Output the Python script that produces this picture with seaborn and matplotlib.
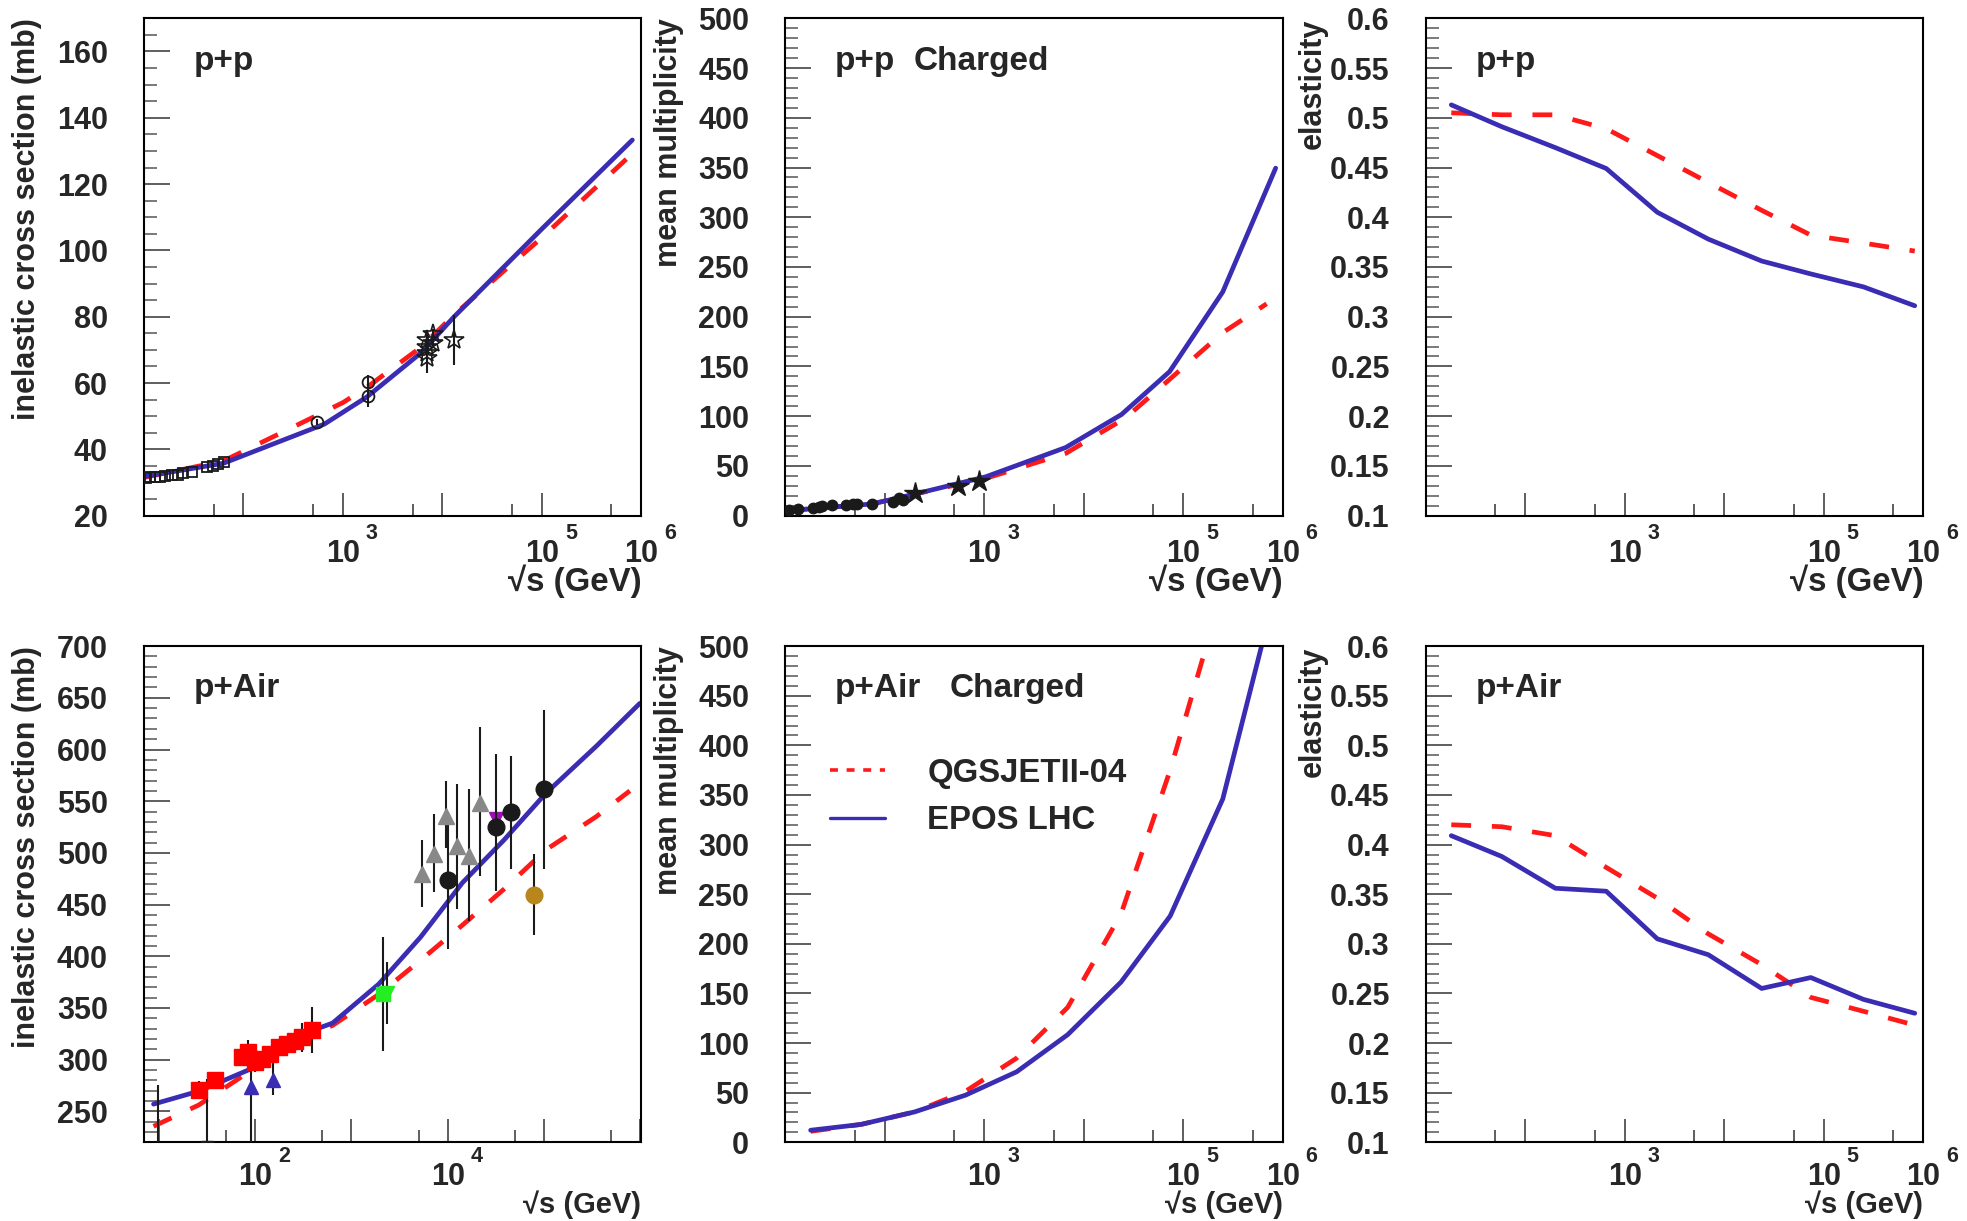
import numpy as np
import seaborn as sns
import matplotlib.pyplot as plt
from matplotlib.ticker import FixedLocator, NullFormatter, FuncFormatter
from matplotlib.lines import Line2D

# ---------------- data ----------------
# p+p inelastic cross section (mb)
pp_xs_epos_x = [10, 63, 650, 1740, 6200, 13000, 1e5, 8.1e5]
pp_xs_epos_y = [31.8, 35.8, 47.6, 55.8, 69.3, 79.9, 106.5, 133.3]
pp_xs_qgs_x = [10, 63, 300, 1000, 1740, 6200, 13000, 1e5, 8.1e5]
pp_xs_qgs_y = [31.5, 36.5, 46.4, 54.1, 58.7, 71.0, 80.5, 103.9, 129.2]
pp_xs_sq_x = [10.5, 11.5, 12.9, 14.5, 16.3, 19, 22.2, 24.9, 30.2, 42.7, 49.9, 56, 63.8]
pp_xs_sq_y = [31.25, 31.55, 31.55, 31.7, 31.9, 32.2, 32.4, 32.8, 33.2, 34.8, 35.1, 35.6, 36.1]
pp_xs_circ_x = [546, 1800, 1800]
pp_xs_circ_y = [48.3, 60.4, 56.2]
pp_xs_circ_err = [0.9, 2.0, 3.3]
pp_xs_star_x = [7000, 7000, 7000, 7000, 8000, 8000, 13000]
pp_xs_star_y = [67.5, 69.0, 71.0, 73.0, 72.0, 74.7, 73.0]
pp_xs_star_err = [1.5, 6.0, 2.0, 1.2, 1.5, 1.7, 7.6]

# p+p charged multiplicity
pp_mult_epos_x = [10.5, 74, 197, 1040, 6600, 24000, 73000, 250000, 850000]
pp_mult_epos_y = [5, 11.7, 21.5, 39.1, 68.5, 101.7, 144.8, 225, 349.4]
pp_mult_qgs_x = [10.5, 74, 197, 1040, 6600, 26000, 73000, 250000, 690000]
pp_mult_qgs_y = [5, 11.7, 21.5, 37.5, 62.6, 97.8, 137, 184, 213]
pp_mult_dot_x = [11, 13.4, 18.9, 21.9, 23.4, 29.3, 41.2, 47.7, 52.7, 74.2, 121, 140, 154]
pp_mult_dot_y = [5.9, 6.7, 7.9, 9.0, 9.8, 10.6, 11.0, 11.3, 11.7, 11.7, 13.7, 17.6, 15.6]
pp_mult_star_x = [201, 550, 890]
pp_mult_star_y = [22.3, 29.3, 35.2]

# model energy grid used for elasticity / p+Air multiplicity
grid_x = [18, 58, 200, 650, 2120, 6900, 23700, 74000, 250000, 820000]
pp_el_epos = [0.513, 0.491, 0.470, 0.449, 0.405, 0.378, 0.356, 0.343, 0.330, 0.311]
pp_el_qgs = [0.505, 0.503, 0.503, 0.489, 0.462, 0.435, 0.407, 0.382, 0.374, 0.366]
pair_mult_epos = [12.1, 18, 30.6, 47.5, 71, 108.4, 161.4, 228, 346, 550]
pair_mult_qgs = [11, 18, 30.6, 51.4, 84.8, 135.9, 230, 375, 557, 850]
pair_el_epos = [0.409, 0.388, 0.356, 0.353, 0.305, 0.289, 0.255, 0.266, 0.244, 0.230]
pair_el_qgs = [0.420, 0.418, 0.409, 0.377, 0.346, 0.310, 0.279, 0.246, 0.232, 0.218]

# p+Air inelastic cross section (mb)
pair_xs_epos_x = [8.8, 25.9, 86, 406, 637, 1920, 5210, 14200, 38600, 105000, 349000, 990000]
pair_xs_epos_y = [256.9, 269.4, 290.1, 328.6, 335.3, 373, 418.3, 471, 512.6, 557.8, 603.1, 644.6]
pair_xs_qgs_x = [8.8, 25.9, 86, 406, 637, 1920, 5210, 14200, 38600, 105000, 349000, 780000]
pair_xs_qgs_y = [235.4, 256, 288, 326, 333, 363, 396, 430, 465, 503, 535, 560]
pair_sq_x = [26.4, 38.5, 72.8, 85, 100, 117, 143, 175, 213, 260, 305, 388]
pair_sq_y = [270.7, 280.4, 302.2, 307.1, 298, 300.7, 305.5, 311.9, 315.2, 318.4, 321.6, 328.7]
pair_sq_err = [9, 7, 8, 12, 10, 8, 8, 8, 8, 10, 14, 22]
pair_low_x = [9.9, 31.5]
pair_low_y = [210, 215]
pair_low_err = [65, 66]
pair_btri_x = [90, 155]
pair_btri_y = [273.2, 280.4]
pair_btri_lo = [60, 15]
pair_btri_hi = [28, 22]
pair_green_x = [2140, 2320]
pair_green_y = [363.5, 364]
pair_green_err = [55, 30]
pair_gray_x = [5460, 7280, 9540, 12600, 16700, 21700]
pair_gray_y = [479.6, 498.9, 536, 506.3, 497.3, 547.9]
pair_gray_lo = [32.3, 37.1, 31, 60.6, 62.9, 69.9]
pair_gray_hi = [32.4, 38.7, 33.3, 60.3, 64.5, 73.5]
pair_black_x = [10000, 31800, 45200, 101000]
pair_black_y = [473.8, 524.7, 539.9, 561.8]
pair_black_lo = [67, 61.3, 55.5, 77.4]
pair_black_hi = [65, 70.9, 54.1, 76.4]
pair_purple_x = [31800]
pair_purple_y = [532.8]
pair_gold_x = [79400]
pair_gold_y = [459.6]
pair_gold_err = [39.5]

BLUE = '#3a2db4'
RED = '#ff1a1a'
FS = 22
FS_TXT = 24

sns.set_theme(style='ticks')
plt.rcParams['font.family'] = ['Liberation Sans', 'DejaVu Sans']
plt.rcParams['font.weight'] = 'bold'
plt.rcParams['axes.labelweight'] = 'bold'

fig = plt.figure(figsize=(19.67, 12.21), dpi=100)
lefts = [0.0732, 0.3992, 0.7249]
W = 0.2529
axs = [[fig.add_axes([l, 0.5777, W, 0.4073]) for l in lefts],
       [fig.add_axes([l, 0.0645, W, 0.4063]) for l in lefts]]


def models(ax, xe, ye, xq, yq):
    sns.lineplot(x=xq, y=yq, ax=ax, color=RED, lw=3.4, sort=False,
                 linestyle=(0, (4.2, 4.4)), zorder=2)
    sns.lineplot(x=xe, y=ye, ax=ax, color=BLUE, lw=3.4, sort=False, zorder=2)


def style(ax, xlim, ylim, ymaj, ymin, exps, ylabel, text, ylab_x=-0.203,
          xlab_off=-47.5, xlab_fs=23.8, tick_off=0):
    ax.set_xscale('log')
    ax.set_xlim(*xlim)
    ax.set_ylim(*ylim)
    ax.xaxis.set_major_locator(FixedLocator([10, 1e2, 1e3, 1e4, 1e5, 1e6]))
    ax.xaxis.set_minor_locator(FixedLocator([50, 500, 5e3, 5e4, 5e5]))
    ax.xaxis.set_major_formatter(NullFormatter())
    ax.xaxis.set_minor_formatter(NullFormatter())
    ax.yaxis.set_major_locator(FixedLocator(ymaj))
    ax.yaxis.set_minor_locator(FixedLocator(ymin))
    ax.yaxis.set_major_formatter(FuncFormatter(lambda v, p: f'{round(v, 3):g}'))
    ax.tick_params(axis='y', which='major', direction='in', length=19, width=1.1,
                   pad=26, labelsize=FS, color='#333', right=False)
    ax.tick_params(axis='y', which='minor', direction='in', length=9, width=1.1,
                   color='#555', right=False)
    ax.tick_params(axis='x', which='major', direction='in', length=16.8, width=1.1,
                   color='#333', top=False)
    ax.tick_params(axis='x', which='minor', direction='in', length=8.4, width=1.1,
                   color='#333', top=False)
    for s in ax.spines.values():
        s.set_visible(True)
        s.set_linewidth(1.5)
        s.set_color('black')
    for e in exps:
        ax.annotate('10', xy=(10.0 ** e, 0), xycoords=('data', 'axes fraction'),
                    xytext=(0, -16.5 + tick_off), textcoords='offset points',
                    ha='center', va='top', fontsize=FS, annotation_clip=False)
        ax.annotate(str(e), xy=(10.0 ** e, 0), xycoords=('data', 'axes fraction'),
                    xytext=(16.5, -5 + tick_off), textcoords='offset points',
                    ha='left', va='top', fontsize=15.5, annotation_clip=False)
    ax.annotate('√s (GeV)', xy=(1, 0), xycoords='axes fraction', xytext=(0, xlab_off),
                textcoords='offset points', ha='right', va='center', fontsize=xlab_fs)
    ax.set_xlabel('')
    ax.set_ylabel(ylabel, loc='top', fontsize=22)
    ax.yaxis.set_label_coords(ylab_x, 1.0)
    ax.text(0.1, 0.897, text, transform=ax.transAxes, fontsize=FS_TXT, va='baseline')


mk = dict(ls='none', color='k', elinewidth=1.5, capsize=0, zorder=3)
bottom_lab = dict(xlab_off=-45, xlab_fs=21, tick_off=2)

# ---- p+p cross section ----
ax = axs[0][0]
models(ax, pp_xs_epos_x, pp_xs_epos_y, pp_xs_qgs_x, pp_xs_qgs_y)
ax.plot(pp_xs_sq_x, pp_xs_sq_y, 's', mfc='none', mec='k', ms=7.5, mew=1.3, zorder=3)
ax.errorbar(pp_xs_circ_x, pp_xs_circ_y, yerr=pp_xs_circ_err, fmt='o', mfc='none',
            mec='k', ms=8.5, mew=1.3, **mk)
ax.errorbar(pp_xs_star_x, pp_xs_star_y, yerr=pp_xs_star_err, fmt='*', mfc='none',
            mec='k', ms=15, mew=1.2, **mk)
style(ax, (10, 1e6), (20, 170), np.arange(20, 161, 20), np.arange(20, 171, 5),
      [3, 5, 6], 'inelastic cross section (mb)', 'p+p', -0.205)

# ---- p+p multiplicity ----
ax = axs[0][1]
models(ax, pp_mult_epos_x, pp_mult_epos_y, pp_mult_qgs_x, pp_mult_qgs_y)
ax.plot(pp_mult_dot_x, pp_mult_dot_y, 'o', color='k', ms=7.5, zorder=3)
ax.plot(pp_mult_star_x, pp_mult_star_y, '*', color='k', ms=16, zorder=3)
style(ax, (10, 1e6), (0, 500), np.arange(0, 501, 50), np.arange(0, 501, 10),
      [3, 5, 6], 'mean multiplicity', 'p+p')
ax.text(0.258, 0.897, 'Charged', transform=ax.transAxes, fontsize=FS_TXT, va='baseline')

# ---- p+p elasticity ----
ax = axs[0][2]
models(ax, grid_x, pp_el_epos, grid_x, pp_el_qgs)
style(ax, (10, 1e6), (0.1, 0.6), np.round(np.arange(0.1, 0.601, 0.05), 2),
      np.round(np.arange(0.1, 0.601, 0.01), 2), [3, 5, 6], 'elasticity', 'p+p', -0.198)

# ---- p+Air cross section ----
ax = axs[1][0]
models(ax, pair_xs_epos_x, pair_xs_epos_y, pair_xs_qgs_x, pair_xs_qgs_y)
ax.errorbar(pair_low_x, pair_low_y, yerr=pair_low_err, fmt='s', ms=9, **mk)
ax.errorbar(pair_btri_x, pair_btri_y, yerr=[pair_btri_lo, pair_btri_hi], fmt='^',
            mfc=BLUE, mec=BLUE, ms=10, **mk)
ax.errorbar(pair_sq_x, pair_sq_y, yerr=pair_sq_err, fmt='s', mfc='#ff0000',
            mec='#ff0000', ms=11.5, **mk)
ax.errorbar(pair_green_x[:1], pair_green_y[:1], yerr=pair_green_err[:1], fmt='s',
            mfc='#22ee22', mec='#22ee22', ms=10, **mk)
ax.errorbar(pair_green_x[1:], pair_green_y[1:], yerr=pair_green_err[1:], fmt='v',
            mfc='#22ee22', mec='#22ee22', ms=10, **mk)
ax.errorbar(pair_gray_x, pair_gray_y, yerr=[pair_gray_lo, pair_gray_hi], fmt='^',
            mfc='#888888', mec='#888888', ms=11, **mk)
ax.plot(pair_purple_x, pair_purple_y, 'v', color='#9a10b0', ms=10, zorder=3)
ax.errorbar(pair_black_x, pair_black_y, yerr=[pair_black_lo, pair_black_hi], fmt='o',
            mfc='k', mec='k', ms=12, **mk)
ax.errorbar(pair_gold_x, pair_gold_y, yerr=pair_gold_err, fmt='o', mfc='#b8861a',
            mec='#b8861a', ms=12, **mk)
style(ax, (7, 1.03e6), (220, 700), np.arange(250, 701, 50), np.arange(220, 701, 10),
      [2, 4], 'inelastic cross section (mb)', 'p+Air', -0.205, **bottom_lab)

# ---- p+Air multiplicity ----
ax = axs[1][1]
models(ax, grid_x, pair_mult_epos, grid_x, pair_mult_qgs)
style(ax, (10, 1e6), (0, 500), np.arange(0, 501, 50), np.arange(0, 501, 10),
      [3, 5, 6], 'mean multiplicity', 'p+Air', **bottom_lab)
ax.text(0.331, 0.897, 'Charged', transform=ax.transAxes, fontsize=FS_TXT, va='baseline')
handles = [Line2D([], [], color=RED, lw=2.6, linestyle=(0, (2.2, 2.4))),
           Line2D([], [], color=BLUE, lw=2.4)]
ax.legend(handles, ['QGSJETII-04', 'EPOS LHC'], loc='upper left',
          bbox_to_anchor=(0.0905, 0.775), frameon=False, fontsize=23.7,
          handlelength=1.65, handletextpad=1.3, labelspacing=0.5,
          borderpad=0, borderaxespad=0)

# ---- p+Air elasticity ----
ax = axs[1][2]
models(ax, grid_x, pair_el_epos, grid_x, pair_el_qgs)
style(ax, (10, 1e6), (0.1, 0.6), np.round(np.arange(0.1, 0.601, 0.05), 2),
      np.round(np.arange(0.1, 0.601, 0.01), 2), [3, 5, 6], 'elasticity', 'p+Air',
      -0.198, **bottom_lab)

fig.savefig('out.png', dpi=100, facecolor='white')
